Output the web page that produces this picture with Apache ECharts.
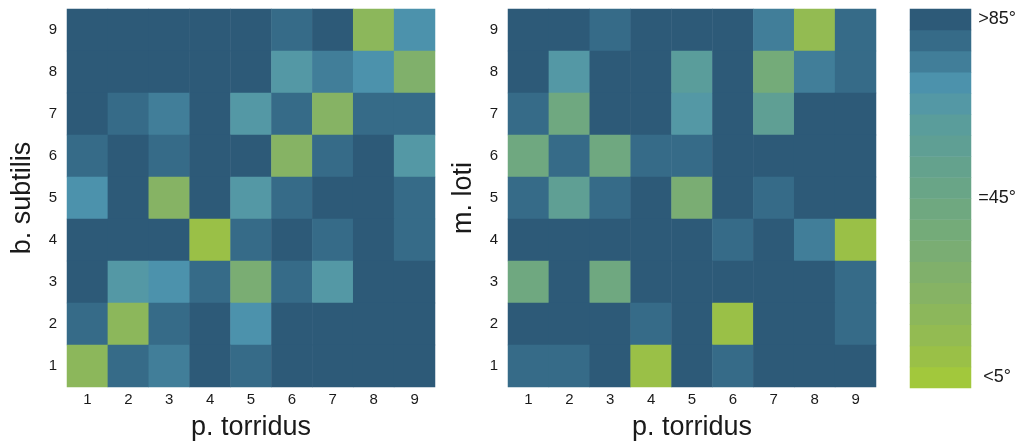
<!DOCTYPE html>
<html>
<head>
<meta charset="utf-8">
<script src="https://cdn.jsdelivr.net/npm/echarts@6/dist/echarts.min.js"></script>
<style>
html,body{margin:0;padding:0;background:#fff;}
#chart{width:1023px;height:446px;}
</style>
</head>
<body>
<div id="chart"></div>
<script>
// categories (tick labels)
var xCategories = ['1','2','3','4','5','6','7','8','9'];
var yCategories = ['1','2','3','4','5','6','7','8','9'];

// angle values in degrees, rows listed from top (9) to bottom (1)
var leftRowsTopDown = [
  [88,88,88,88,88,83,88,17,73],
  [88,88,88,88,88,68,78,73,27],
  [88,83,78,88,68,83,22,83,83],
  [83,88,83,88,88,22,83,88,68],
  [73,88,22,88,68,83,88,88,83],
  [88,88,88,7,83,88,83,88,83],
  [88,68,73,83,32,83,68,88,88],
  [83,17,83,88,73,88,88,88,88],
  [17,83,78,88,83,88,88,88,88]
];
var rightRowsTopDown = [
  [88,88,83,88,88,88,78,13,83],
  [88,68,88,88,63,88,37,78,83],
  [83,42,88,88,68,88,57,88,88],
  [42,83,42,83,83,88,88,88,88],
  [83,57,83,88,32,88,83,88,88],
  [88,88,88,88,88,83,88,78,7],
  [42,88,42,88,88,88,88,88,83],
  [88,88,88,83,88,7,88,88,83],
  [83,83,88,7,88,83,88,88,88]
];

// colour-bar levels (5 degree bins, bottom to top) and its labels
var levelMids = [2.5,7.5,12.5,17.5,22.5,27.5,32.5,37.5,42.5,47.5,52.5,57.5,62.5,67.5,72.5,77.5,82.5,87.5];
var levelCategories = ['0','5','10','15','20','25','30','35','40','45','50','55','60','65','70','75','80','85'];
var barLabelValues = [2.5, 45, 87.5];
var barLabelTexts = ['<5°', '=45°', '>85°'];

var levelColors = [
  '#a2c83c','#9ac047','#93bb52','#8cb75b','#86b364','#80b06b','#7aad73','#74ab79',
  '#6fa880','#69a587','#64a28d','#5f9f94','#5a9d9b','#5498a5','#4c92ac','#417e99',
  '#366b88','#2d5a78'
];

function toCells(rows){
  var out = [];
  for (var r = 0; r < rows.length; r++){
    for (var c = 0; c < rows[r].length; c++){
      out.push([c, rows.length - 1 - r, rows[r][c]]);
    }
  }
  return out;
}
var pieces = levelMids.map(function(m, i){
  return {min: m - 2.5, max: m + 2.5, color: levelColors[i]};
});
var barCells = levelMids.map(function(m, i){ return [0, i, m]; });

var FONT = '"Liberation Sans", Arial, sans-serif';
var txt = '#1a1a1a';

function catX(gi){
  return {
    type:'category', gridIndex: gi, data: xCategories,
    name:'p. torridus', nameLocation:'middle', nameGap: 27,
    nameTextStyle:{fontSize:27, color: txt, fontFamily: FONT},
    axisLine:{show:false}, axisTick:{show:false}, splitLine:{show:false},
    axisLabel:{fontSize:15, color: txt, fontFamily: FONT, margin: 5}
  };
}
function catY(gi, name){
  return {
    type:'category', gridIndex: gi, data: yCategories,
    name: name, nameLocation:'middle', nameGap: 31, nameRotate: 90,
    nameTextStyle:{fontSize:27, color: txt, fontFamily: FONT},
    axisLine:{show:false}, axisTick:{show:false}, splitLine:{show:false},
    axisLabel:{fontSize:15, color: txt, fontFamily: FONT, margin: 10}
  };
}

var option = {
  backgroundColor:'#ffffff',
  animation:false,
  grid:[
    {left:67, top:9, width:368, height:379},
    {left:508, top:9, width:368, height:379},
    {left:910, top:9, width:61, height:379}
  ],
  xAxis:[
    catX(0), catX(1),
    {type:'category', gridIndex:2, data:[''], show:false}
  ],
  yAxis:[
    catY(0,'b. subtilis'), catY(1,'m. loti'),
    {type:'category', gridIndex:2, data: levelCategories, show:false},
    {type:'value', gridIndex:2, min:0, max:90, position:'right',
     axisLine:{show:false}, axisTick:{show:false}, splitLine:{show:false},
     axisLabel:{
       customValues: barLabelValues, align:'center', margin: 26,
       fontSize:18, color: txt, fontFamily: FONT,
       formatter:function(v){
         var i = barLabelValues.indexOf(v);
         return i >= 0 ? barLabelTexts[i] : '';
       }
     }}
  ],
  visualMap:{
    type:'piecewise', show:false, seriesIndex:[0,1,2],
    pieces: pieces
  },
  series:[
    {type:'heatmap', xAxisIndex:0, yAxisIndex:0, data: toCells(leftRowsTopDown),
     itemStyle:{borderWidth:0}, emphasis:{disabled:true}},
    {type:'heatmap', xAxisIndex:1, yAxisIndex:1, data: toCells(rightRowsTopDown),
     itemStyle:{borderWidth:0}, emphasis:{disabled:true}},
    {type:'heatmap', xAxisIndex:2, yAxisIndex:2, data: barCells,
     itemStyle:{borderWidth:0}, emphasis:{disabled:true}}
  ]
};
var chart = echarts.init(document.getElementById('chart'), null, {renderer:'canvas'});
chart.setOption(option);
</script>
</body>
</html>
